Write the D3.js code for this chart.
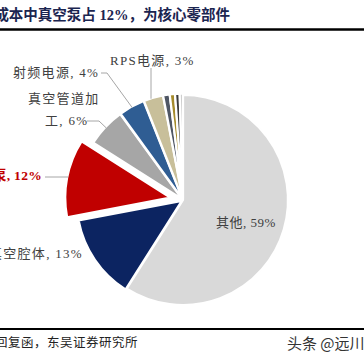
<!DOCTYPE html>
<html><head><meta charset="utf-8">
<script src="https://cdn.jsdelivr.net/npm/d3@7"></script>
<style>html,body{margin:0;padding:0;background:#fff;overflow:hidden}</style>
</head><body><svg id="c" width="364" height="364"></svg>
<script>
const categories = ["其他","真空腔体","真空泵","真空管道加工","射频电源","RPS电源","小项1","小项2","小项3","小项4"];
const values = [59,13,12,6,4,3,1,0.8,0.7,0.5];
const colors = ["#d9d9d9","#0c2461","#c00000","#a6a6a6","#2f5d93","#c8bf9a","#4f5664","#a58b2c","#3a3a3a","#c9c9c9"];
const labelText = ["其他, 59%","真空腔体, 13%","真空泵, 12%","真空管道加工, 6%","射频电源, 4%","RPS电源, 3%"];

const svg = d3.select("#c");
const cx = 183, cy = 200, R = 105;
const serif = "'Liberation Serif','Noto Sans CJK SC',serif";

// title
svg.append("text").attr("x",230).attr("y",20).attr("text-anchor","end")
  .attr("font-family",serif).attr("font-weight","bold").attr("font-size",14.5)
  .attr("fill","#1b2550").text("成本中真空泵占 12%，为核心零部件");
svg.append("line").attr("x1",0).attr("x2",364).attr("y1",29.5).attr("y2",29.5)
  .attr("stroke","#000").attr("stroke-width",2.5);

const data = categories.map((c,i)=>({name:c,value:values[i],color:colors[i]}));
const pie = d3.pie().value(d=>d.value).sort(null);
const arcs = pie(data);
const arc = d3.arc().innerRadius(0).outerRadius(R);
const explode = d => d.data.name==="真空泵" ? 13 : (d.data.name==="其他" ? 0 : 1.5);
const mid = d => (d.startAngle+d.endAngle)/2;

const g = svg.append("g").attr("transform",`translate(${cx},${cy})`);
g.selectAll("path").data(arcs).join("path")
  .attr("d",arc)
  .attr("transform",d=>{const a=mid(d),o=explode(d);return `translate(${o*Math.sin(a)},${-o*Math.cos(a)})`;})
  .attr("fill",d=>d.data.color)
  .attr("stroke","#fff").attr("stroke-width",2.2).attr("stroke-linejoin","round");

const edgePt = (d,extra=0) => {const a=mid(d),r=R+explode(d)+extra;return [cx+r*Math.sin(a), cy-r*Math.cos(a)];};

// leader lines
const leaders = {
  "RPS电源": [[151,68]],
  "射频电源": [[101,73],[107,73]],
  "真空管道加工": [[87,121],[99,121]],
  "真空泵": [[45,177]]
};
arcs.forEach(d=>{
  const L = leaders[d.data.name]; if(!L) return;
  let p = edgePt(d,-1);
  if(d.data.name==="RPS电源") p=[151,p[1]];
  if(d.data.name==="真空泵") p=[p[0],177];
  svg.append("polyline").attr("points",[...L,p].map(q=>q.join(",")).join(" "))
    .attr("fill","none").attr("stroke","#a6a6a6").attr("stroke-width",1);
});

const lab = (t,x,y,anchor,opts={}) => svg.append("text").attr("x",x).attr("y",y)
  .attr("text-anchor",anchor).attr("font-family",serif).attr("font-size",opts.size||13)
  .attr("letter-spacing",opts.ls!=null?opts.ls:1.3)
  .attr("font-weight",opts.bold?"bold":"normal").attr("fill",opts.fill||"#404040").text(t);

lab(labelText[5],110,65,"start");
lab(labelText[4],13,77,"start");
lab("真空管道加",28,103,"start");
lab("工, 6%",45,125,"start");
lab(labelText[2],42,180,"end",{bold:true,fill:"#c00000",ls:0.3,size:13.5});
lab(labelText[1],83,258,"end");
lab(labelText[0],216,227,"start",{ls:0.5});

// footer
svg.append("line").attr("x1",0).attr("x2",364).attr("y1",329).attr("y2",329)
  .attr("stroke","#000").attr("stroke-width",2);
svg.append("text").attr("x",-5).attr("y",347).attr("font-family",serif).attr("font-size",12.5)
  .attr("letter-spacing",0.5).attr("fill","#222").text("回复函，东吴证券研究所");
svg.append("text").attr("x",287).attr("y",349).attr("font-family","'Noto Sans CJK SC',sans-serif")
  .attr("font-size",15).attr("fill","#333").text("头条 @远川研究所");
</script></body></html>
